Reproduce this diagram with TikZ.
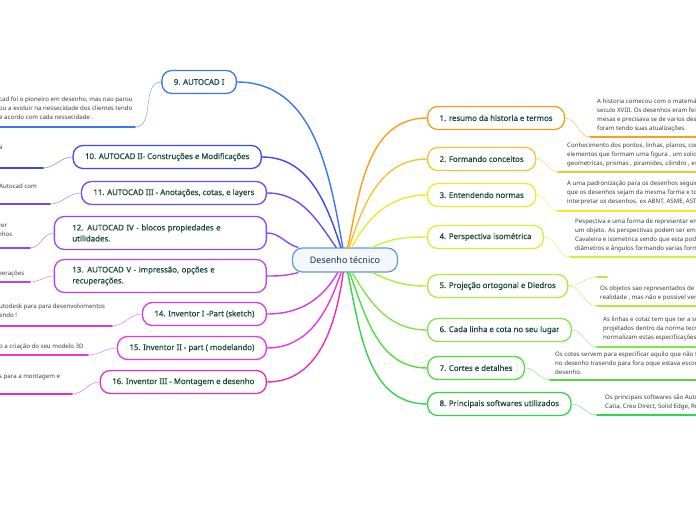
\documentclass[tikz,border=0pt]{standalone}
\usepackage{fontspec}
\setmainfont{Noto Sans}
\newfontfamily\topicfont[FakeBold=0.35]{Noto Sans}
\definecolor{cA}{HTML}{F8A01C}
\definecolor{cB}{HTML}{F9C22E}
\definecolor{cC}{HTML}{F2E82A}
\definecolor{cD}{HTML}{D2F03C}
\definecolor{cE}{HTML}{AEEB3A}
\definecolor{cF}{HTML}{80E44C}
\definecolor{cG}{HTML}{50DE3E}
\definecolor{cH}{HTML}{36D448}
\definecolor{cI}{HTML}{3D74F6}
\definecolor{cJ}{HTML}{3F48EC}
\definecolor{cK}{HTML}{6B4DF0}
\definecolor{cL}{HTML}{9547F1}
\definecolor{cM}{HTML}{B745EE}
\definecolor{cN}{HTML}{D43DE6}
\definecolor{cO}{HTML}{E83AD6}
\definecolor{cP}{HTML}{F02CB7}
\definecolor{ctr}{HTML}{5B9BD5}
\definecolor{ctrfill}{HTML}{F4F8FD}
\definecolor{txtgreen}{HTML}{17473A}
\definecolor{txtnavy}{HTML}{1C2B4E}
\definecolor{notegray}{HTML}{3A3A3A}
\tikzset{
  topic/.style={draw=#1, line width=1.3pt, rounded corners=10pt, fill=white,
    minimum height=23pt, inner xsep=12pt, text=txtgreen,
    font=\topicfont\fontsize{7.8}{11}\selectfont},
  note/.style={text=notegray, align=left, inner sep=0pt, anchor=north west,
    font=\fontsize{6.1}{9}\selectfont},
  branch/.style={draw=#1, line width=1.4pt},
  twig/.style={draw=#1!60, line width=0.6pt},
  under/.style={draw=#1, line width=1.6pt},
}
\begin{document}
\begin{tikzpicture}[x=1pt,y=-1pt, line join=round, line cap=round]
	\useasboundingbox (0,0) rectangle (696,520);
	% centro
	\node[draw=ctr, line width=1.2pt, rounded corners=10pt, fill=ctrfill,
	  minimum width=105pt, minimum height=24pt, text=txtnavy,
	  font=\fontsize{9}{11}\selectfont\bfseries] (c) at (345,260) {Desenho técnico};
	% topicos da direita
	\foreach \i/\y/\col/\txt in {1/118/cA/{1. resumo da historia e termos},
	  2/159/cB/{2. Formando conceitos}, 3/195/cC/{3. Entendendo normas},
	  4/237/cD/{4. Perspectiva isométrica}, 5/286/cE/{5. Projeção ortogonal e Diedros},
	  6/330/cF/{6. Cada linha e cota no seu lugar}, 7/368/cG/{7. Cortes e detalhes},
	  8/404/cH/{8. Principais softwares utilizados}}
	\node[topic=\col, anchor=west] (t\i) at (427,\y) {\txt};
	% topicos da esquerda
	\foreach \i/\x/\y/\col/\txt in {9/237/82/cI/{9. AUTOCAD I},
	  10/262/157/cJ/{10. AUTOCAD II- Construções e Modificações},
	  11/267/193/cK/{11. AUTOCAD III - Anotações,  cotas, e layers},
	  14/267/314/cN/{14. Inventor I -Part (sketch)},
	  15/267/348/cO/{15. Inventor II - part ( modelando)},
	  16/267/382/cP/{16. Inventor III - Montagem e desenho}}
	\node[topic=\col, anchor=east] (t\i) at (\x,\y) {\txt};
	\node[topic=cL, anchor=east, text width=176pt, inner xsep=18pt, align=left,
	  minimum height=33pt] (t12) at (267,233) {12. AUTOCAD IV - blocos propiedades e\\utilidades.};
	\node[topic=cM, anchor=east, text width=176pt, inner xsep=18pt, align=left,
	  minimum height=33pt] (t13) at (267,276) {13. AUTOCAD V - impressão,  opções  e\\recuperações.};
	% ramos
	\foreach \i/\a/\col in {1/78/cA, 2/72/cB, 3/62/cC, 4/25/cD, 5/-25/cE, 6/-60/cF, 7/-70/cG, 8/-78/cH}
	\draw[branch=\col] (c) to[out=\a, in=180] (t\i.west);
	\foreach \i/\a/\col in {9/100/cI, 10/108/cJ, 11/125/cK, 12/165/cL, 13/195/cM, 14/240/cN, 15/252/cO, 16/262/cP}
	\draw[branch=\col] (c) to[out=\a, in=0] (t\i.east);
	% notas da direita
	\foreach \i/\xa/\ya/\col in {1/590/137/cA, 2/558/172/cB, 3/558/211/cC, 4/570/257/cD,
	  5/597/306/cE, 6/597/347/cF, 7/550/380/cG, 8/597/415/cH}
	{
	  \coordinate (u\i) at (\xa,\ya);
	  \draw[twig=\col] (t\i.east) to[out=0, in=180] (u\i);
	  \draw[under=\col] (u\i) -- (700,\ya);
	}
	\coordinate (s5) at (597,277);
	\coordinate (s5b) at (607,277);
	\draw[twig=cE] (t5.east) to[out=0, in=180] (s5);
	\draw[under=cE] (s5) -- (s5b);
	% notas da esquerda
	\foreach \i/\xa/\ya/\col in {9/135/127/cI, 10/43/168/cJ, 11/50/204/cK, 12/30/248/cL,
	  13/30/282/cM, 14/112/326/cN, 15/88/355/cO, 16/72/394/cP}
	{
	  \coordinate (u\i) at (\xa,\ya);
	  \draw[twig=\col] (t\i.west) to[out=180, in=0] (u\i);
	  \draw[under=\col] (u\i) -- (-5,\ya);
	}
	% textos das notas
	\node[note] (n1) at (597,99) {A historia comecou com o matemático\\seculo XVIII. Os desenhos eram feitos\\mesas e precisava se de varios desenhos\\foram tendo suas atualizações.};
	\node[note] (n2) at (567,143) {Conhecimento dos pontos, linhas, planos, conhecer\\elementos que formam uma figura , um solido\\geometricas, prismas , piramides, cilindro , esferas};
	\node[note] (n3) at (567,181) {A uma padronização para os desenhos seguindo\\que os desenhos sejam da mesma forma e todos\\interpretar os desenhos. ex ABNT, ASME, ASTM};
	\node[note] (n4) at (575,219) {Pespectiva e uma forma de representar em\\um objeto. As perspectivas podem ser em 3D\\Cavaleira e isometrica sendo que esta pode\\diâmetros e ângulos formando varias formas};
	\node[note] (n5) at (600,286) {Os objetos sao representados de\\realidade , mas não e possivel  ver};
	\node[note] (n6) at (603,317) {As linhas e cotaz tem que ter a sua\\projetados dentro da norma tecnica\\normalizam estas especificações};
	\node[note] (n7) at (555,352) {Os cotes servem para especificar  aquilo  que não foi\\no desenho trasendo para fora oque estava escondido\\desenho.};
	\node[note] (n8) at (605,395) {Os principais softwares são Autocad\\Catia, Creo Direct, Solid Edge, Revit};
	\node[note] (n9) at (-1,97) {cad foi o pioneiro em desenho, mas nao parou\\ou a evoluir na nessecidade dos clientes tendo\\e acordo com cada nessecidade .};
	\node[note] (n10) at (-1,146) {a};
	\node[note] (n11) at (-1,184) {Autocad com};
	\node[note] (n12) at (-2,224) {zer\\nhos};
	\node[note] (n13) at (-2,271) {perações};
	\node[note] (n14) at (-1,304) {utodesk para para desenvolvimentos\\endo !};
	\node[note] (n15) at (-1,344) {o a criação do seu modelo 3D};
	\node[note] (n16) at (-1,374) {s para a montagem e};
\end{tikzpicture}
\end{document}
